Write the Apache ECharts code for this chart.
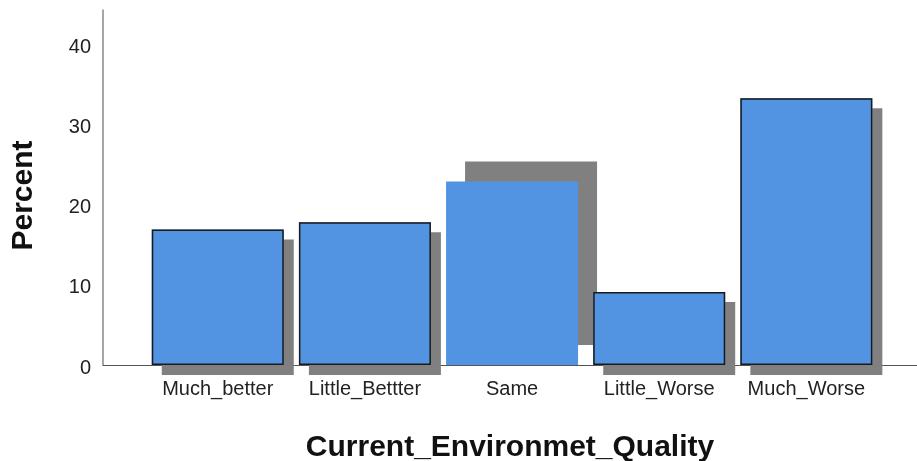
<!DOCTYPE html>
<html>
<head>
<meta charset="utf-8">
<script src="https://cdn.jsdelivr.net/npm/echarts@6/dist/echarts.min.js"></script>
<style>
  html, body { margin: 0; padding: 0; background: #fff; }
  #chart { width: 917px; height: 461px; }
</style>
</head>
<body>
<div id="chart"></div>
<script>
// Share of responses per rating of current environment quality
const categories = ['Much_better', 'Little_Bettter', 'Same', 'Little_Worse', 'Much_Worse'];
const percents = [16.9, 17.8, 22.9, 9.1, 33.3];
const yTicks = [0, 10, 20, 30, 40];

const barFill = '#5294e2';
const shadowGray = '#808080';
const textFont = 'Liberation Sans, Arial, sans-serif';

// fill layer: blue body with a hard drop shadow
const fillData = percents.map(function (v, i) {
  const item = { value: [i, v] };
  if (categories[i] === 'Same') {
    // selected bar: shadow shifted up and to the right
    item.itemStyle = { shadowOffsetX: 19, shadowOffsetY: -20 };
  }
  return item;
});

// outline layer drawn on top of the fill, without shadow
const outlineData = percents.map(function (v, i) {
  const item = { value: [i, v] };
  if (categories[i] === 'Same') {
    item.itemStyle = { borderWidth: 0 };
  }
  return item;
});

const chart = echarts.init(document.getElementById('chart'), null, { renderer: 'canvas' });
chart.setOption({
  animation: false,
  backgroundColor: '#ffffff',
  grid: {
    left: 103, right: 0, top: 10, bottom: 96,
    containLabel: false,
    outerBoundsMode: 'none'
  },
  xAxis: {
    type: 'value',
    min: -0.78,
    max: 4.752,
    splitLine: { show: false },
    axisTick: { show: false },
    axisLine: { show: true, onZero: false, lineStyle: { color: '#555555', width: 1 } },
    axisLabel: {
      customValues: [0, 1, 2, 3, 4],
      formatter: function (v) { return categories[Math.round(v)] || ''; },
      color: '#222222',
      fontFamily: textFont,
      fontSize: 20,
      margin: 14
    },
    name: 'Current_Environmet_Quality',
    nameLocation: 'middle',
    nameGap: 68,
    nameTextStyle: {
      color: '#111111',
      fontFamily: textFont,
      fontSize: 30,
      fontWeight: 'bold'
    }
  },
  yAxis: {
    type: 'value',
    min: 0,
    max: 44.3,
    splitLine: { show: false },
    axisTick: { show: false },
    axisLine: { show: true, onZero: false, lineStyle: { color: '#888888', width: 1.5 } },
    axisLabel: {
      customValues: yTicks,
      color: '#222222',
      fontFamily: textFont,
      fontSize: 20,
      margin: 12,
      verticalAlign: 'top',
      lineHeight: 6
    },
    name: 'Percent',
    nameLocation: 'middle',
    nameGap: 64,
    nameRotate: 90,
    nameTextStyle: {
      color: '#111111',
      fontFamily: textFont,
      fontSize: 30,
      fontWeight: 'bold',
      padding: [0, 16, 0, 0]
    }
  },
  series: [{
    type: 'bar',
    name: 'fill',
    barWidth: 132,
    barGap: '-100%',
    data: fillData,
    itemStyle: {
      color: barFill,
      borderWidth: 0,
      shadowColor: shadowGray,
      shadowBlur: 0,
      shadowOffsetX: 10,
      shadowOffsetY: 10
    },
    emphasis: { disabled: true }
  }, {
    type: 'bar',
    name: 'outline',
    barWidth: 132,
    barGap: '-100%',
    data: outlineData,
    itemStyle: {
      color: 'rgba(0,0,0,0)',
      borderColor: '#1a1a1a',
      borderWidth: 1.5
    },
    emphasis: { disabled: true }
  }]
});
</script>
</body>
</html>
